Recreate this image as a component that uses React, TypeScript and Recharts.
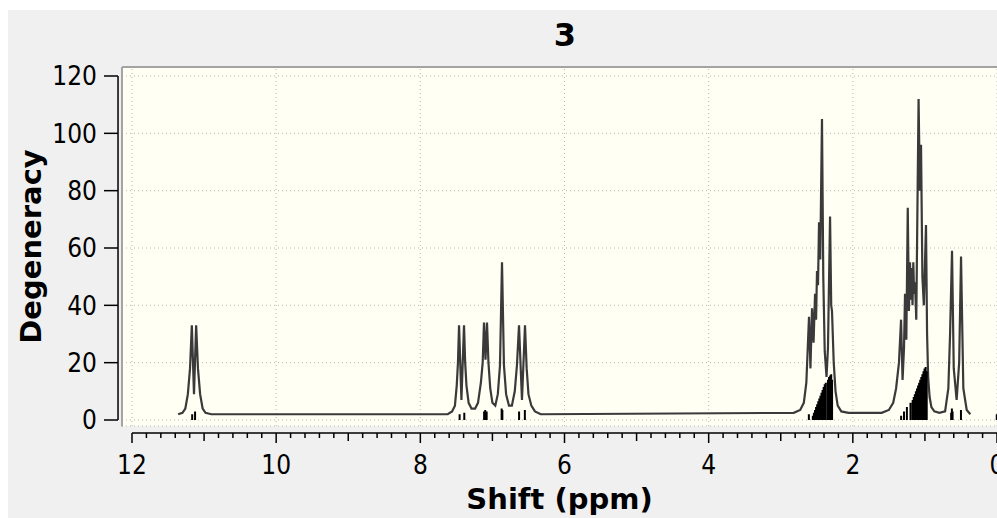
import React from "react";
import {
  ComposedChart,
  Line,
  XAxis,
  YAxis,
  CartesianGrid,
  ReferenceLine,
} from "recharts";

const TITLE = "3";
const X_TITLE = "Shift (ppm)";
const Y_TITLE = "Degeneracy";

const yTicks = [0, 20, 40, 60, 80, 100, 120];
const xLabelTicks = [12, 10, 8, 6, 4, 2, 0];
// tick marks every 0.2 ppm
const xMinorTicks = Array.from({ length: 61 }, (_, i) => Number((i * 0.2).toFixed(1)));

type Pt = [number, number];

// broadened spectrum [ppm, degeneracy]
const nhBand: Pt[] = [
  [11.36, 2], [11.3, 2.5], [11.26, 4], [11.225, 9], [11.195, 18], [11.17, 33],
  [11.14, 9], [11.11, 33], [11.085, 18], [11.055, 9], [11.02, 4], [10.98, 2.5], [10.9, 2],
];
const aromaticBand: Pt[] = [
  [7.62, 2], [7.56, 3], [7.52, 5], [7.495, 12], [7.478, 20], [7.463, 33], [7.43, 7],
  [7.394, 33], [7.378, 20], [7.36, 12], [7.33, 6], [7.29, 4], [7.24, 4], [7.2, 6],
  [7.16, 13], [7.135, 20], [7.117, 34], [7.096, 21], [7.075, 34], [7.055, 20], [7.03, 11],
  [7.0, 6], [6.96, 5], [6.925, 9], [6.895, 19], [6.867, 55], [6.84, 19], [6.81, 9],
  [6.77, 5], [6.73, 5], [6.69, 10], [6.66, 19], [6.631, 33], [6.59, 7], [6.548, 33],
  [6.525, 18], [6.5, 9], [6.46, 5], [6.41, 3], [6.33, 2],
];
const band24: Pt[] = [
  [2.82, 2.5], [2.73, 3.5], [2.68, 6], [2.645, 13], [2.608, 36], [2.588, 18], [2.566, 39],
  [2.545, 27], [2.524, 44], [2.51, 35], [2.497, 52], [2.483, 47], [2.469, 69], [2.452, 56],
  [2.428, 105], [2.41, 50], [2.39, 24], [2.365, 15], [2.345, 25], [2.316, 71], [2.3, 40],
  [2.289, 38], [2.265, 20], [2.24, 10], [2.21, 5], [2.16, 3], [2.06, 2.5],
];
const band11: Pt[] = [
  [1.6, 2.5], [1.5, 3.5], [1.44, 6], [1.4, 11], [1.36, 20], [1.331, 35], [1.31, 14],
  [1.29, 25], [1.276, 44], [1.258, 28], [1.238, 74], [1.222, 38], [1.207, 55], [1.195, 42],
  [1.183, 53], [1.172, 40], [1.161, 55], [1.15, 44], [1.137, 48], [1.12, 35], [1.088, 112],
  [1.07, 80], [1.054, 96], [1.035, 50], [1.015, 40], [0.985, 68], [0.97, 30], [0.955, 15],
  [0.935, 8], [0.91, 4.5], [0.87, 3], [0.8, 2.5],
];
const band05: Pt[] = [
  [0.72, 3], [0.675, 11], [0.651, 30], [0.624, 59], [0.6, 18], [0.56, 7], [0.525, 20],
  [0.499, 57], [0.467, 11], [0.42, 3.5], [0.37, 2],
];

// stick spectrum [ppm, degeneracy]
const nhSticks: Pt[] = [[11.165, 2], [11.125, 3]];
const aromaticSticks: Pt[] = [
  [7.455, 2], [7.39, 2.5], [7.115, 3], [7.1, 3.5], [7.08, 3], [6.872, 4], [6.862, 3.5],
  [6.63, 3], [6.55, 3.5],
];
const sticks24: Pt[] = [
  [2.61, 2], [2.555, 1.5], [2.54, 2.5], [2.525, 3.5], [2.51, 4.5], [2.495, 5.5], [2.48, 6.5],
  [2.465, 7.5], [2.45, 8.5], [2.435, 9.5], [2.42, 10.5], [2.405, 11.5], [2.39, 12.5],
  [2.375, 13], [2.345, 14], [2.33, 15], [2.315, 15.5], [2.3, 16], [2.288, 14],
];
const sticks11: Pt[] = [
  [1.33, 1.5], [1.29, 3], [1.25, 4.5], [1.2, 6], [1.17, 7], [1.155, 8], [1.14, 9],
  [1.125, 10], [1.11, 11], [1.095, 12], [1.08, 13], [1.065, 14], [1.05, 15], [1.035, 16],
  [1.02, 17], [1.005, 18], [0.99, 18.5], [0.975, 17],
];
const sticks05: Pt[] = [[0.636, 2.5], [0.626, 4], [0.616, 3], [0.5, 3.5], [0.003, 2]];

const curve = [...nhBand, ...aromaticBand, ...band24, ...band11, ...band05].map(
  ([ppm, deg]) => ({ ppm, deg })
);
const stickRows = [...nhSticks, ...aromaticSticks, ...sticks24, ...sticks11, ...sticks05].flatMap(
  ([ppm, deg]) => [
    { ppm, deg: 0 },
    { ppm, deg },
    { ppm, deg: null },
  ]
);

// frame / detached axes, just outside the scale range
const PLOT_LEFT = 12.139;
const PLOT_TOP = 123.1;
const Y_AXIS_AT = 12.194;
const X_AXIS_AT = -4.53;

const tickFont = "'DejaVu Sans Condensed', 'Liberation Sans', sans-serif";
const boldFont = "'DejaVu Sans', Verdana, sans-serif";
const gridStroke = "#b8b8b8";

function XTick({ x, y, payload }: any) {
  const v = payload.value;
  const major = xLabelTicks.includes(v);
  const len = major ? 10 : Number.isInteger(v) ? 8 : 5;
  return (
    <g>
      <line x1={x} x2={x} y1={y + 7} y2={y + 7 + len} stroke="#000" strokeWidth={1.5} />
      {major && (
        <text x={x} y={y + 48} textAnchor="middle" fontFamily={tickFont} fontSize={26} fill="#000">
          {v}
        </text>
      )}
    </g>
  );
}

function YTick({ x, y, payload }: any) {
  return (
    <g>
      <line x1={x - 18} x2={x - 4} y1={y} y2={y} stroke="#000" strokeWidth={1.5} />
      <text x={x - 25} y={y} dy="0.36em" textAnchor="end" fontFamily={tickFont} fontSize={26} fill="#000">
        {payload.value}
      </text>
    </g>
  );
}

export default function App() {
  return (
    <div style={{ position: "absolute", left: 0, top: 0, width: 997, height: 518, overflow: "hidden", background: "#fff" }}>
      <div style={{ position: "absolute", left: 8, top: 10, right: 0, bottom: 0, background: "#f0f0f0" }} />
      <div
        style={{
          position: "absolute",
          left: 515,
          top: 19,
          width: 100,
          textAlign: "center",
          fontFamily: boldFont,
          fontWeight: "bold",
          fontSize: 32,
          lineHeight: "32px",
          color: "#000",
        }}
      >
        {TITLE}
      </div>
      <div style={{ position: "absolute", left: 0, top: 0 }}>
        <ComposedChart width={1030} height={518} margin={{ top: 67, right: 33, bottom: 0, left: 7 }}>
          <CartesianGrid vertical={false} fill="#fffff4" stroke={gridStroke} strokeDasharray="1 3" />
          <XAxis
            type="number"
            dataKey="ppm"
            domain={[0, 12]}
            reversed
            allowDataOverflow
            ticks={xMinorTicks}
            interval={0}
            tick={(p: any) => <XTick {...p} />}
            tickLine={false}
            axisLine={false}
            tickSize={0}
            tickMargin={0}
            height={92}
            padding={{ left: 10, right: 0 }}
            label={{
              value: X_TITLE,
              position: "insideBottom",
              offset: 9,
              style: { fontFamily: boldFont, fontWeight: "bold", fontSize: 29, fill: "#000" },
            }}
          />
          <YAxis
            type="number"
            domain={[0, 120]}
            ticks={yTicks}
            interval={0}
            tick={(p: any) => <YTick {...p} />}
            tickLine={false}
            axisLine={false}
            tickSize={0}
            tickMargin={0}
            width={115}
            padding={{ top: 9, bottom: 6 }}
            label={{
              value: Y_TITLE,
              angle: -90,
              position: "insideLeft",
              offset: 24,
              style: { textAnchor: "middle", fontFamily: boldFont, fontWeight: "bold", fontSize: 29, fill: "#000" },
            }}
          />
          {xLabelTicks.map((t) => (
            <ReferenceLine key={t} x={t} stroke={gridStroke} strokeDasharray="1 3" />
          ))}
          <ReferenceLine
            segment={[{ x: PLOT_LEFT, y: X_AXIS_AT / 2 }, { x: PLOT_LEFT, y: PLOT_TOP }]}
            ifOverflow="visible"
            stroke="#a3a3a3"
            strokeWidth={2}
          />
          <ReferenceLine
            segment={[{ x: PLOT_LEFT, y: PLOT_TOP }, { x: -0.5, y: PLOT_TOP }]}
            ifOverflow="visible"
            stroke="#a3a3a3"
            strokeWidth={2}
          />
          <ReferenceLine
            segment={[{ x: Y_AXIS_AT, y: 0 }, { x: Y_AXIS_AT, y: 120 }]}
            ifOverflow="visible"
            stroke="#000"
            strokeWidth={1.5}
          />
          <ReferenceLine
            segment={[{ x: 12, y: X_AXIS_AT }, { x: -0.5, y: X_AXIS_AT }]}
            ifOverflow="visible"
            stroke="#000"
            strokeWidth={1.5}
          />
          <Line
            data={curve}
            dataKey="deg"
            type="linear"
            stroke="#3a3a3a"
            strokeWidth={2.2}
            dot={false}
            activeDot={false}
            isAnimationActive={false}
          />
          <Line
            data={stickRows}
            dataKey="deg"
            type="linear"
            stroke="#000"
            strokeWidth={2}
            dot={false}
            activeDot={false}
            connectNulls={false}
            isAnimationActive={false}
          />
        </ComposedChart>
      </div>
    </div>
  );
}
